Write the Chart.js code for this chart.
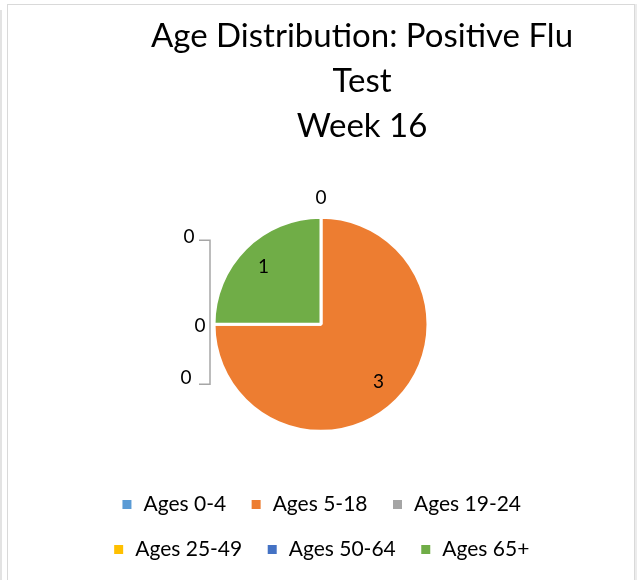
<!DOCTYPE html>
<html lang="en">
  <head>
    <meta charset="UTF-8" />
    <title>Age Distribution</title>
    <script src="https://cdn.jsdelivr.net/npm/chart.js@4"></script>
    <style>
      body { margin: 0; background: #fff; }
      #edge { position: absolute; left: 0; top: 10px; width: 2px; height: 580px; background: #e3e3e3; }
      #frame {
        position: absolute; left: 7px; top: 4px; width: 626px; height: 600px;
        border: 1px solid #d9d9d9; box-shadow: 2px 0 0 #ececec; background: #fff;
      }
    </style>
  </head>
  <body>
    <div id="edge"></div>
    <div id="frame">
      <canvas id="myChart" width="626" height="576"></canvas>
    </div>

    <script>
      const categories = ["Ages 0-4", "Ages 5-18", "Ages 19-24", "Ages 25-49", "Ages 50-64", "Ages 65+"];
      const counts = [0, 3, 0, 0, 0, 1];
      const colors = ["#5B9BD5", "#ED7D31", "#A5A5A5", "#FFC000", "#4472C4", "#70AD47"];
      const titleLines = ["Age Distribution: Positive Flu", "Test", "Week 16"];

      const FONT = "Lato, 'Liberation Sans', sans-serif";

      // where to put the labels of the empty slices (pixels off the arc point)
      const zeroOffsets = { 0: [0, -19], 2: [-28, 54], 3: [-14, 2], 4: [-25, -87] };

      const pieLabels = {
        id: "pieLabels",
        afterDatasetsDraw(chart) {
          const ctx = chart.ctx;
          const meta = chart.getDatasetMeta(0);
          ctx.save();
          ctx.font = "19px " + FONT;
          ctx.fillStyle = "#000";
          ctx.textAlign = "center";
          ctx.textBaseline = "middle";
          let bracket = [];
          meta.data.forEach((arc, i) => {
            const p = arc.getProps(["x", "y", "startAngle", "endAngle", "outerRadius"], true);
            const v = counts[i];
            if (v > 0) {
              const mid = (p.startAngle + p.endAngle) / 2;
              const r = p.outerRadius * 0.76;
              ctx.fillText(v, p.x + Math.cos(mid) * r, p.y + Math.sin(mid) * r);
            } else {
              const ax = p.x + Math.cos(p.startAngle) * p.outerRadius;
              const ay = p.y + Math.sin(p.startAngle) * p.outerRadius;
              const off = zeroOffsets[i];
              ctx.fillText(v, ax + off[0], ay + off[1]);
              if (i > 1) bracket.push([ax, ay + off[1]]);
            }
          });
          if (bracket.length) {
            const ys = bracket.map(b => b[1]);
            const x = bracket[0][0] - 4;
            ctx.strokeStyle = "#A6A6A6";
            ctx.lineWidth = 1.5;
            ctx.beginPath();
            ctx.moveTo(x - 11, Math.min(...ys) + 3);
            ctx.lineTo(x, Math.min(...ys) + 3);
            ctx.lineTo(x, Math.max(...ys) + 6);
            ctx.lineTo(x - 11, Math.max(...ys) + 6);
            ctx.stroke();
          }
          ctx.restore();
        }
      };

      // title sits a little to the right of the pie, as in the original
      const shiftTitle = {
        id: "shiftTitle",
        afterLayout(chart) {
          if (chart.titleBlock) {
            chart.titleBlock.left += 41;
            chart.titleBlock.right += 41;
          }
        }
      };

      const data = {
        labels: categories,
        datasets: [{
          data: counts,
          backgroundColor: colors,
          borderColor: "#fff",
          borderWidth: 3,
          radius: 107
        }]
      };

      const config = {
        type: "pie",
        data,
        options: {
          responsive: false,
          animation: false,
          layout: { padding: { top: 0, bottom: 11, left: 75, right: 75 } },
          plugins: {
            title: {
              display: true,
              text: titleLines,
              color: "#000",
              font: { family: FONT, size: 33, weight: "normal", lineHeight: 1.36 },
              padding: { top: 9, bottom: 30 }
            },
            legend: {
              position: "bottom",
              labels: {
                color: "#000",
                // white slice border eats into the box, so draw it a bit larger
                boxWidth: 12,
                boxHeight: 12,
                padding: 24,
                font: { family: FONT, size: 21 }
              }
            },
            tooltip: { enabled: false }
          }
        },
        plugins: [pieLabels, shiftTitle]
      };

      var myChart = new Chart(document.getElementById("myChart"), config);
    </script>
  </body>
</html>
